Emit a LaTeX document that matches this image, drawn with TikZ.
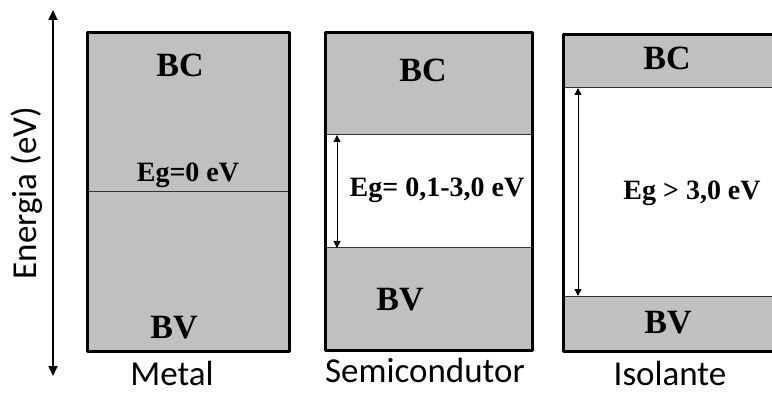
\documentclass[tikz,border=0pt]{standalone}
\usepackage{fontspec}
\setmainfont{Liberation Serif}
\newfontfamily\calib{Carlito}
\usetikzlibrary{arrows.meta}
\definecolor{band}{HTML}{C0C0C0}
\definecolor{lin}{HTML}{333333}
\tikzset{
  frame/.style={line width=3pt, line join=round},
  bandfill/.style={fill=band},
  sep/.style={draw=lin, line width=1pt},
  lbl/.style={font=\bfseries\fontsize{34}{38}\selectfont, inner sep=0pt},
  eg/.style={font=\bfseries\fontsize{28}{32}\selectfont, inner sep=0pt},
  captxt/.style={font=\calib\fontsize{35}{40}\selectfont, inner sep=0pt},
  bottxt/.style={captxt, anchor=base, text depth=0pt},
  gaparrow/.style={line width=1pt, {Triangle[length=7pt,width=7pt]}-{Triangle[length=7pt,width=7pt]}},
  bigarrow/.style={line width=2pt, {Triangle[length=10pt,width=9pt]}-{Triangle[length=10pt,width=9pt]}}
}
\begin{document}
\begin{tikzpicture}[x=1pt,y=-1pt]
\clip (0,0) rectangle (772,393);
\fill[white] (0,0) rectangle (772,393);
% energy axis
\coordinate (et) at (53,10);
\coordinate (eb) at (53,376);
\draw[bigarrow] (et) -- (eb);
\node[captxt, rotate=90] (energia) at (27,193) {Energia (eV)};
% Metal
\fill[bandfill] (87,33) rectangle (289,351);
\draw[sep] (87,192) -- (289,192);
\draw[frame] (87,33) rectangle (289,351);
\node[lbl] (mbc) at (180,65) {BC};
\node[eg] (meg) at (188,175) {Eg=0 eV};
\node[lbl] (mbv) at (174,328) {BV};
\node[bottxt] (metal) at (172,385) {Metal};
% Semiconductor
\fill[bandfill] (325,33) rectangle (532,135);
\fill[bandfill] (325,248) rectangle (532,350);
\draw[sep] (325,135) -- (532,135);
\draw[sep] (325,248) -- (532,248);
\draw[frame] (325,33) rectangle (532,350);
\coordinate (st) at (337,135);
\coordinate (sb) at (337,248);
\draw[gaparrow] (st) -- (sb);
\node[lbl] (sbc) at (423,70) {BC};
\node[eg] (seg) at (437,190) {Eg= 0,1-3,0 eV};
\node[lbl] (sbv) at (400,300) {BV};
\node[bottxt] (semi) at (425,382) {Semicondutor};
% Isolante
\fill[bandfill] (563,35) rectangle (790,88);
\fill[bandfill] (563,296) rectangle (790,351);
\draw[sep] (563,88) -- (790,88);
\draw[sep] (563,296) -- (790,296);
\draw[frame] (563,35) rectangle (790,351);
\coordinate (it) at (578,88);
\coordinate (ib) at (578,296);
\draw[gaparrow] (it) -- (ib);
\node[lbl] (ibc) at (667,58) {BC};
\node[eg] (ieg) at (692,193) {Eg > 3,0 eV};
\node[lbl] (ibv) at (668,323) {BV};
\node[bottxt] (iso) at (670,385) {Isolante};
\end{tikzpicture}
\end{document}
